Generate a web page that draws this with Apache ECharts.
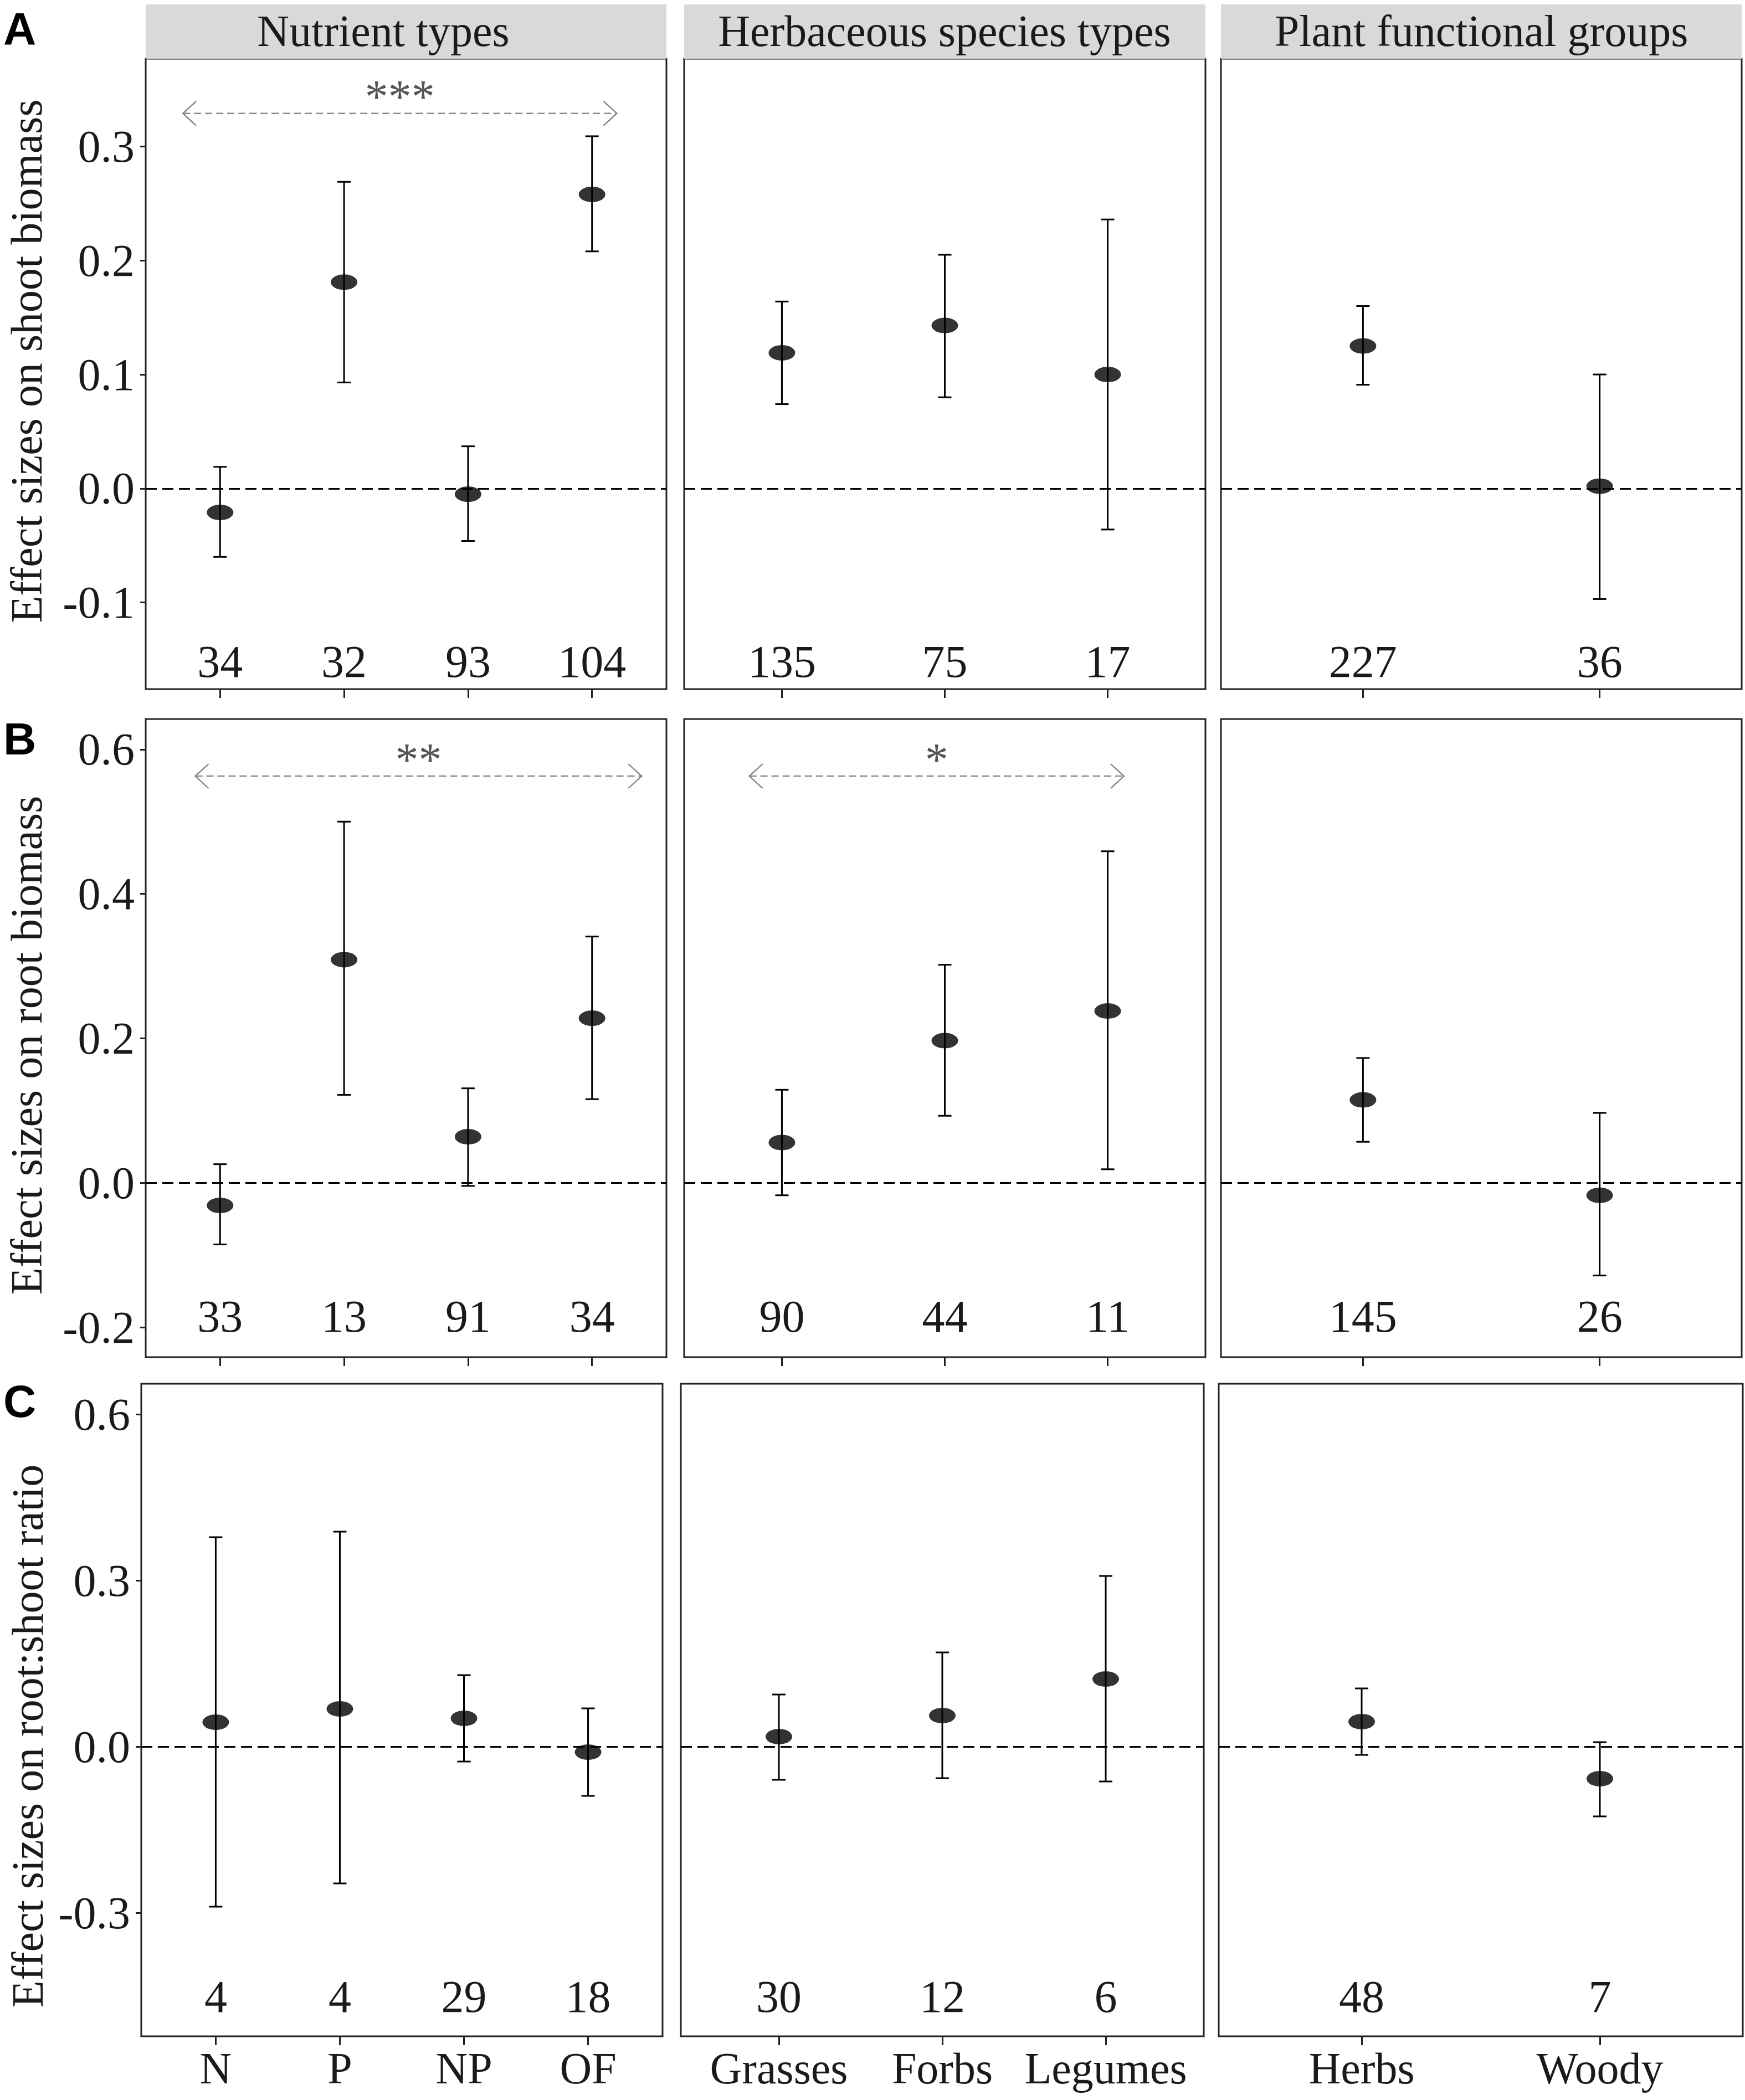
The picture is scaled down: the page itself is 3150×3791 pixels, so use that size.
<!DOCTYPE html>
<html>
<head>
<meta charset="utf-8">
<script src="https://cdn.jsdelivr.net/npm/echarts@6/dist/echarts.min.js"></script>
<style>
  html, body { margin: 0; padding: 0; background: #fff; }
  #chart { width: 3150px; height: 3791px; }
</style>
</head>
<body>
<div id="chart"></div>
<script>
// row titles, facet strips, categories
const rowNames = ['Effect sizes on shoot biomass', 'Effect sizes on root biomass', 'Effect sizes on root:shoot ratio'];
const stripTitles = ['Nutrient types', 'Herbaceous species types', 'Plant functional groups'];
const panelLetters = ['A', 'B', 'C'];
const nutrientCats = ['N', 'P', 'NP', 'OF'];
const herbCats = ['Grasses', 'Forbs', 'Legumes'];
const groupCats = ['Herbs', 'Woody'];

// shoot biomass
const shootNutMean = [-0.021, 0.181, -0.005, 0.258];
const shootNutLow = [-0.060, 0.093, -0.046, 0.208];
const shootNutHigh = [0.019, 0.269, 0.037, 0.309];
const shootNutN = [34, 32, 93, 104];
const shootHerbMean = [0.119, 0.143, 0.100];
const shootHerbLow = [0.074, 0.080, -0.036];
const shootHerbHigh = [0.164, 0.205, 0.236];
const shootHerbN = [135, 75, 17];
const shootGroupMean = [0.125, 0.002];
const shootGroupLow = [0.091, -0.097];
const shootGroupHigh = [0.160, 0.100];
const shootGroupN = [227, 36];

// root biomass
const rootNutMean = [-0.031, 0.309, 0.064, 0.228];
const rootNutLow = [-0.085, 0.122, -0.004, 0.116];
const rootNutHigh = [0.026, 0.500, 0.131, 0.341];
const rootNutN = [33, 13, 91, 34];
const rootHerbMean = [0.056, 0.197, 0.238];
const rootHerbLow = [-0.017, 0.093, 0.019];
const rootHerbHigh = [0.129, 0.302, 0.459];
const rootHerbN = [90, 44, 11];
const rootGroupMean = [0.115, -0.017];
const rootGroupLow = [0.057, -0.128];
const rootGroupHigh = [0.173, 0.097];
const rootGroupN = [145, 26];

// root:shoot ratio
const ratioNutMean = [0.044, 0.068, 0.051, -0.010];
const ratioNutLow = [-0.289, -0.247, -0.027, -0.089];
const ratioNutHigh = [0.378, 0.388, 0.129, 0.069];
const ratioNutN = [4, 4, 29, 18];
const ratioHerbMean = [0.018, 0.056, 0.122];
const ratioHerbLow = [-0.060, -0.057, -0.063];
const ratioHerbHigh = [0.094, 0.170, 0.308];
const ratioHerbN = [30, 12, 6];
const ratioGroupMean = [0.045, -0.058];
const ratioGroupLow = [-0.015, -0.126];
const ratioGroupHigh = [0.105, 0.008];
const ratioGroupN = [48, 7];

// y scales per row
const yMin = [-0.176, -0.241, -0.523];
const yMax = [0.377, 0.642, 0.655];
const yTicks = [[-0.1, 0, 0.1, 0.2, 0.3], [-0.2, 0, 0.2, 0.4, 0.6], [-0.3, 0, 0.3, 0.6]];
const countY = [-0.152, -0.185, -0.451];

// significance brackets
const sigRow = [0, 1, 1];
const sigCol = [0, 0, 1];
const sigFrom = [0.7, 0.8, 0.8];
const sigTo = [4.2, 4.4, 3.1];
const sigY = [0.329, 0.563, 0.563];
const sigText = ['***', '**', '*'];

// layout
const rowTop = [106, 1298, 2498];
const rowBottom = [1244, 2450, 3676];
const colLeft = [[263, 1235, 2204], [263, 1235, 2204], [255, 1229, 2200]];
const colRight = [[1203, 2176, 3144], [1203, 2176, 3144], [1196, 2173, 3146]];
const stripTextX = [692, 1705, 2674];
const titleX = [48, 48, 50];
const titleY = [652, 1887, 3134];
const letterTop = [10, 1292, 2488];
const serif = "'Liberation Serif', 'Times New Roman', serif";
const ink = '#1a1a1a';

const cats = [nutrientCats, herbCats, groupCats];
const means = [
  [shootNutMean, shootHerbMean, shootGroupMean],
  [rootNutMean, rootHerbMean, rootGroupMean],
  [ratioNutMean, ratioHerbMean, ratioGroupMean]
];
const lows = [
  [shootNutLow, shootHerbLow, shootGroupLow],
  [rootNutLow, rootHerbLow, rootGroupLow],
  [ratioNutLow, ratioHerbLow, ratioGroupLow]
];
const highs = [
  [shootNutHigh, shootHerbHigh, shootGroupHigh],
  [rootNutHigh, rootHerbHigh, rootGroupHigh],
  [ratioNutHigh, ratioHerbHigh, ratioGroupHigh]
];
const counts = [
  [shootNutN, shootHerbN, shootGroupN],
  [rootNutN, rootHerbN, rootGroupN],
  [ratioNutN, ratioHerbN, ratioGroupN]
];

const myChart = echarts.init(document.getElementById('chart'), null, { renderer: 'svg' });

const grid = [], xAxis = [], yAxis = [], series = [], graphic = [];

function errorBar(params, api) {
  const lo = api.coord([api.value(0), api.value(1)]);
  const hi = api.coord([api.value(0), api.value(2)]);
  const w = 12;
  const st = { stroke: '#000', lineWidth: 3 };
  return {
    type: 'group',
    children: [
      { type: 'line', shape: { x1: lo[0], y1: lo[1], x2: hi[0], y2: hi[1] }, style: st },
      { type: 'line', shape: { x1: lo[0] - w, y1: lo[1], x2: lo[0] + w, y2: lo[1] }, style: st },
      { type: 'line', shape: { x1: hi[0] - w, y1: hi[1], x2: hi[0] + w, y2: hi[1] }, style: st }
    ]
  };
}

function countText(params, api) {
  const p = api.coord([api.value(0), api.value(1)]);
  return {
    type: 'text', x: p[0], y: p[1],
    style: { text: String(api.value(2)), fontSize: 82, fontFamily: serif, fill: ink, align: 'center', verticalAlign: 'middle' }
  };
}

function sigBracket(k, api) {
  const a = api.coord([api.value(0), api.value(2)]);
  const b = api.coord([api.value(1), api.value(2)]);
  const gray = '#8a8a8a';
  const hx = 24, hy = 22;
  return {
    type: 'group',
    children: [
      { type: 'line', shape: { x1: a[0], y1: a[1], x2: b[0], y2: b[1] }, style: { stroke: gray, lineWidth: 2.5, lineDash: [13, 7] } },
      { type: 'polyline', shape: { points: [[a[0] + hx, a[1] - hy], [a[0], a[1]], [a[0] + hx, a[1] + hy]] }, style: { stroke: gray, lineWidth: 2.5, fill: null } },
      { type: 'polyline', shape: { points: [[b[0] - hx, b[1] - hy], [b[0], b[1]], [b[0] - hx, b[1] + hy]] }, style: { stroke: gray, lineWidth: 2.5, fill: null } },
      { type: 'text', x: (a[0] + b[0]) / 2, y: a[1] + 12,
        style: { text: sigText[k], fontSize: 84, fontFamily: serif, fill: '#555', align: 'center', verticalAlign: 'bottom' } }
    ]
  };
}

for (let r = 0; r < 3; r++) {
  for (let c = 0; c < 3; c++) {
    const idx = r * 3 + c;
    const n = cats[c].length;
    const pos = cats[c].map((_, i) => i + 1);
    grid.push({
      left: colLeft[r][c], top: rowTop[r],
      width: colRight[r][c] - colLeft[r][c], height: rowBottom[r] - rowTop[r],
      show: true, borderColor: '#222', borderWidth: 3, backgroundColor: '#fff',
      containLabel: false, outerBoundsMode: 'none'
    });
    xAxis.push({
      gridIndex: idx, type: 'value', min: 0.4, max: n + 0.6, position: 'bottom',
      axisLine: { show: false, onZero: false }, splitLine: { show: false },
      axisTick: { show: true, length: 16, lineStyle: { color: '#222', width: 3 }, customValues: pos },
      axisLabel: {
        show: r === 2, customValues: pos, margin: 18,
        formatter: v => cats[c][Math.round(v) - 1] || '',
        fontSize: 80, fontFamily: serif, color: ink
      }
    });
    yAxis.push({
      gridIndex: idx, type: 'value', min: yMin[r], max: yMax[r], show: c === 0,
      axisLine: { show: false, onZero: false }, splitLine: { show: false },
      axisTick: { show: true, length: 10, lineStyle: { color: '#222', width: 3 }, customValues: yTicks[r] },
      axisLabel: { customValues: yTicks[r], formatter: v => v.toFixed(1), fontSize: 82, fontFamily: serif, color: ink, margin: 20 }
    });

    series.push({
      type: 'custom', xAxisIndex: idx, yAxisIndex: idx, z: 2, silent: true,
      renderItem: errorBar,
      data: pos.map((x, i) => [x, lows[r][c][i], highs[r][c][i]])
    });
    series.push({
      type: 'scatter', xAxisIndex: idx, yAxisIndex: idx, z: 3, silent: true,
      symbol: 'circle', symbolSize: [48, 28], itemStyle: { color: '#000' },
      data: pos.map((x, i) => [x, means[r][c][i]]),
      markLine: {
        silent: true, symbol: 'none', label: { show: false },
        lineStyle: { color: '#000', width: 3, type: [20, 10] },
        data: [{ yAxis: 0 }]
      }
    });
    series.push({
      type: 'custom', xAxisIndex: idx, yAxisIndex: idx, z: 2, silent: true,
      renderItem: countText,
      data: pos.map((x, i) => [x, countY[r], counts[r][c][i]])
    });
  }
}

// significance brackets
sigRow.forEach((r, k) => {
  const idx = r * 3 + sigCol[k];
  series.push({
    type: 'custom', xAxisIndex: idx, yAxisIndex: idx, z: 2, silent: true,
    renderItem: (params, api) => sigBracket(k, api),
    data: [[sigFrom[k], sigTo[k], sigY[k]]]
  });
});

// facet strips
for (let c = 0; c < 3; c++) {
  const w = colRight[0][c] - colLeft[0][c];
  graphic.push({
    type: 'rect', left: colLeft[0][c], top: 8, shape: { width: w, height: 98 },
    style: { fill: '#d9d9d9' }, silent: true
  });
  graphic.push({
    type: 'text', x: stripTextX[c], y: 56,
    style: { text: stripTitles[c], fontSize: 80, fontFamily: serif, fill: ink, align: 'center', verticalAlign: 'middle' }
  });
}
// row titles (vertical)
rowNames.forEach((t, i) => {
  graphic.push({
    type: 'text', x: titleX[i], y: titleY[i], rotation: Math.PI / 2,
    style: { text: t, fontSize: 80, fontFamily: serif, fill: ink, align: 'center', verticalAlign: 'middle' }
  });
});
// panel letters
panelLetters.forEach((t, i) => {
  graphic.push({
    type: 'text', x: 6, y: letterTop[i],
    style: { text: t, fontSize: 82, fontWeight: 'bold', fontFamily: "'Liberation Sans', Arial, sans-serif", fill: '#000', align: 'left', verticalAlign: 'top' }
  });
});

myChart.setOption({
  backgroundColor: '#fff',
  animation: false,
  grid: grid,
  xAxis: xAxis,
  yAxis: yAxis,
  series: series,
  graphic: graphic
});
</script>
</body>
</html>
